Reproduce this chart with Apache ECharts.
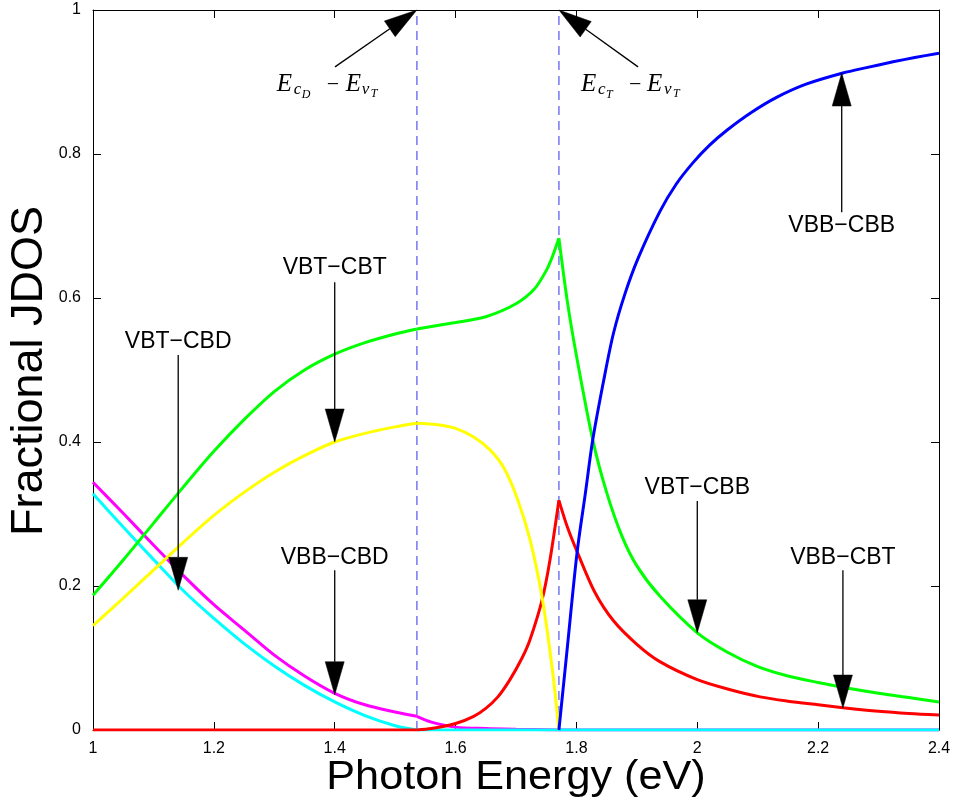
<!DOCTYPE html>
<html>
<head>
<meta charset="utf-8">
<script src="https://cdn.jsdelivr.net/npm/echarts@6/dist/echarts.min.js"></script>
<style>
html, body { margin: 0; padding: 0; background: #fff; }
#chart { width: 956px; height: 807px; }
</style>
</head>
<body>
<div id="chart"></div>
<script>
// Fractional joint density of states for each valence/conduction band pair.

// VBT-CBB (green)
const vbtCbbX = [1.0, 1.05, 1.1, 1.15, 1.2, 1.25, 1.3, 1.35, 1.4, 1.45, 1.5, 1.536, 1.6, 1.65, 1.7, 1.73, 1.75, 1.76, 1.771,
                 1.785, 1.8, 1.827, 1.85, 1.875, 1.9, 1.938, 2.0, 2.05, 2.1, 2.15, 2.2, 2.25, 2.3, 2.35, 2.4];
const vbtCbbY = [0.187, 0.236, 0.287, 0.338, 0.387, 0.431, 0.47, 0.5, 0.522, 0.538, 0.55, 0.557, 0.566, 0.574, 0.592, 0.612, 0.638, 0.657, 0.683,
                 0.595, 0.52, 0.403, 0.33, 0.27, 0.228, 0.186, 0.135, 0.108, 0.088, 0.075, 0.066, 0.058, 0.051, 0.045, 0.039];

// VBT-CBT (yellow)
const vbtCbtX = [1.0, 1.05, 1.1, 1.15, 1.2, 1.25, 1.3, 1.35, 1.4, 1.45, 1.5, 1.536, 1.57, 1.6, 1.63, 1.657, 1.68, 1.702, 1.723, 1.743, 1.76, 1.771];
const vbtCbtY = [0.145, 0.183, 0.222, 0.261, 0.298, 0.33, 0.358, 0.381, 0.4, 0.412, 0.421, 0.426, 0.424, 0.419, 0.407, 0.389, 0.364, 0.322, 0.265, 0.185, 0.085, 0.0];

// VBB-CBT (red)
const vbbCbtX = [1.0, 1.536, 1.56, 1.6, 1.63, 1.65, 1.67, 1.69, 1.71, 1.723, 1.743, 1.756, 1.771,
                 1.785, 1.801, 1.83, 1.861, 1.9, 1.938, 2.0, 2.05, 2.104, 2.15, 2.2, 2.241, 2.3, 2.35, 2.4];
const vbbCbtY = [0.0, 0.0, 0.002, 0.009, 0.019, 0.03, 0.046, 0.07, 0.1, 0.125, 0.18, 0.235, 0.319,
                 0.282, 0.248, 0.192, 0.152, 0.119, 0.095, 0.07, 0.057, 0.046, 0.04, 0.035, 0.031, 0.026, 0.023, 0.021];

// VBB-CBB (blue)
const vbbCbbX = [1.771, 1.785, 1.801, 1.815, 1.827, 1.845, 1.861, 1.88, 1.902, 1.938, 1.965, 1.993, 2.02, 2.049,
                 2.09, 2.132, 2.18, 2.241, 2.28, 2.324, 2.36, 2.4];
const vbbCbbY = [0.0, 0.115, 0.246, 0.33, 0.403, 0.485, 0.55, 0.605, 0.655, 0.72, 0.758, 0.788, 0.812, 0.833,
                 0.858, 0.879, 0.897, 0.9125, 0.92, 0.928, 0.934, 0.94];

// VBB-CBD (magenta)
const vbbCbdX = [1.0, 1.05, 1.1, 1.15, 1.2, 1.25, 1.3, 1.35, 1.4, 1.45, 1.5, 1.536, 1.56, 1.6, 1.65, 1.7, 1.771, 2.4];
const vbbCbdY = [0.344, 0.301, 0.257, 0.214, 0.174, 0.139, 0.104, 0.075, 0.051, 0.035, 0.025, 0.019, 0.011, 0.004, 0.002, 0.001, 0.0, 0.0];

// VBT-CBD (cyan)
const vbtCbdX = [1.0, 1.05, 1.1, 1.15, 1.2, 1.25, 1.3, 1.35, 1.4, 1.45, 1.5, 1.536, 2.4];
const vbtCbdY = [0.328, 0.282, 0.237, 0.193, 0.155, 0.12, 0.089, 0.062, 0.039, 0.02, 0.006, 0.0, 0.0];

// Transition energies marked by dashed lines: Ec_D - Ev_T and Ec_T - Ev_T (eV)
const edgeEnergies = [1.536, 1.771];

// Axis tick values
const xTicks = [1, 1.2, 1.4, 1.6, 1.8, 2, 2.2, 2.4];
const yTicks = [0, 0.2, 0.4, 0.6, 0.8, 1];

// Band-pair annotations: text centre and arrow from/to in data units
const pairLabels = ['VBB\u2212CBB', 'VBT\u2212CBT', 'VBT\u2212CBD', 'VBB\u2212CBD', 'VBT\u2212CBB', 'VBB\u2212CBT'];
const pairLabelAt = [[2.239, 0.700], [1.4, 0.642], [1.141, 0.539], [1.4, 0.240], [2.0, 0.336], [2.241, 0.240]];
const pairArrowFrom = [[2.239, 0.719], [1.4, 0.622], [1.141, 0.521], [1.4, 0.222], [2.0, 0.318], [2.241, 0.222]];
const pairArrowTo = [[2.239, 0.9125], [1.4, 0.4], [1.141, 0.194], [1.4, 0.049], [2.0, 0.135], [2.241, 0.0305]];

// Edge annotations (E_cD - E_vT, E_cT - E_vT)
const edgeLabelAt = [[1.4, 0.8917], [1.902, 0.8917]];
const edgeArrowFrom = [[1.4005, 0.921], [1.902, 0.921]];
const edgeArrowTo = [[1.536, 1.0], [1.771, 1.0]];

// Glyph layout of the math labels: [glyph, dx from centre, dy from centre, font size]
const edgeGlyphs = [
  [['E', -58, -4, 25], ['c', -41, 2, 17], ['D', -33, 7, 12], ['\u2212', -8, -3, 22], ['E', 11, -4, 25], ['v', 27, 2, 17], ['T', 36, 6, 12]],
  [['E', -57, -4, 25], ['c', -40, 2, 17], ['T', -32, 7, 12], ['\u2212', -9, -3, 22], ['E', 9, -4, 25], ['v', 26, 2, 17], ['T', 35, 6, 12]]
];

// Energies where a curve has a sharp corner; smoothing is applied between them only
const cornerEnergies = [1.536, 1.771];

function zip(xs, ys) { return xs.map((x, i) => [x, ys[i]]); }

function splitAtCorners(xs, ys) {
  const pts = zip(xs, ys);
  const parts = [];
  let cur = [];
  pts.forEach((p, i) => {
    cur.push(p);
    if (i > 0 && i < pts.length - 1 && cornerEnergies.includes(p[0])) {
      parts.push(cur);
      cur = [p];
    }
  });
  if (cur.length > 1) parts.push(cur);
  return parts;
}

const chart = echarts.init(document.getElementById('chart'), null, { renderer: 'canvas' });

const SANS = '"Liberation Sans", Arial, Helvetica, sans-serif';
const SERIF = '"Liberation Serif", "DejaVu Serif", serif';

function curve(name, xs, ys, color) {
  return splitAtCorners(xs, ys).map(part => ({
    name, type: 'line', data: part,
    showSymbol: false, symbol: 'none', smooth: 0.3,
    lineStyle: { color, width: 3 }, itemStyle: { color },
    xAxisIndex: 0, yAxisIndex: 0, z: 3
  }));
}

function renderArrow(params, api) {
  const a = api.coord([api.value(0), api.value(1)]);
  const b = api.coord([api.value(2), api.value(3)]);
  const dx = b[0] - a[0], dy = b[1] - a[1];
  const len = Math.hypot(dx, dy);
  const ux = dx / len, uy = dy / len;
  const hl = 33, hw = 9.5;
  const bx = b[0] - ux * hl, by = b[1] - uy * hl;
  return {
    type: 'group',
    children: [
      { type: 'line', shape: { x1: a[0], y1: a[1], x2: bx, y2: by }, style: { stroke: '#000', lineWidth: 1.3 } },
      { type: 'polygon', shape: { points: [[b[0], b[1]], [bx - uy * hw, by + ux * hw], [bx + uy * hw, by - ux * hw]] },
        style: { fill: '#000', stroke: '#000', lineWidth: 0.5 } }
    ]
  };
}

function textEl(text, x, y, font, align) {
  return {
    type: 'text', x, y,
    style: { text, font, fill: '#000', align: align, textAlign: align, verticalAlign: 'middle', textVerticalAlign: 'middle' }
  };
}

const arrowData = pairArrowFrom.map((f, i) => [f[0], f[1], pairArrowTo[i][0], pairArrowTo[i][1]])
  .concat(edgeArrowFrom.map((f, i) => [f[0], f[1], edgeArrowTo[i][0], edgeArrowTo[i][1]]));

const axisLineStyle = { show: true, onZero: false, lineStyle: { color: '#000', width: 1 } };
const axisTickStyle = { show: true, inside: true, length: 8, lineStyle: { color: '#000', width: 1 } };

const option = {
  animation: false,
  backgroundColor: '#fff',
  grid: { left: 93, right: 17, top: 10, bottom: 77, show: false },
  xAxis: [
    { type: 'value', min: xTicks[0], max: xTicks[xTicks.length - 1], interval: 0.2, position: 'bottom',
      axisLine: axisLineStyle, axisTick: axisTickStyle, splitLine: { show: false },
      axisLabel: { margin: 11, fontSize: 16, color: '#000', fontFamily: SANS } },
    { type: 'value', min: xTicks[0], max: xTicks[xTicks.length - 1], interval: 0.2, position: 'top',
      axisLine: axisLineStyle, axisTick: axisTickStyle, splitLine: { show: false },
      axisLabel: { show: false } }
  ],
  yAxis: [
    { type: 'value', min: yTicks[0], max: yTicks[yTicks.length - 1], interval: 0.2, position: 'left',
      axisLine: axisLineStyle, axisTick: axisTickStyle, splitLine: { show: false },
      axisLabel: { margin: 12, fontSize: 16, color: '#000', fontFamily: SANS } },
    { type: 'value', min: yTicks[0], max: yTicks[yTicks.length - 1], interval: 0.2, position: 'right',
      axisLine: axisLineStyle, axisTick: axisTickStyle, splitLine: { show: false },
      axisLabel: { show: false } }
  ],
  graphic: [
    { type: 'text', x: 516, y: 778, scaleX: 1.08,
      style: { text: 'Photon Energy (eV)', font: '40px ' + SANS, fill: '#000', align: 'center', textAlign: 'center', verticalAlign: 'middle', textVerticalAlign: 'middle' } },
    { type: 'text', x: 30, y: 371, rotation: Math.PI / 2,
      style: { text: 'Fractional JDOS', font: '45px ' + SANS, fill: '#000', align: 'center', textAlign: 'center', verticalAlign: 'middle', textVerticalAlign: 'middle' } }
  ],
  series: [
    // dashed markers of the two transition energies
    ...edgeEnergies.map(e => ({
      type: 'line', data: [[e, yTicks[0]], [e, yTicks[yTicks.length - 1]]],
      showSymbol: false, symbol: 'none',
      lineStyle: { color: '#7676f2', width: 1.5, type: [9, 6] }, z: 2
    })),
    ...curve('VBB\u2212CBD', vbbCbdX, vbbCbdY, '#ff00ff'),
    ...curve('VBT\u2212CBD', vbtCbdX, vbtCbdY, '#00ffff'),
    ...curve('VBB\u2212CBT', vbbCbtX, vbbCbtY, '#ff0000'),
    ...curve('VBT\u2212CBT', vbtCbtX, vbtCbtY, '#ffff00'),
    ...curve('VBT\u2212CBB', vbtCbbX, vbtCbbY, '#00ff00'),
    ...curve('VBB\u2212CBB', vbbCbbX, vbbCbbY, '#0000ff'),
    {
      type: 'custom', data: arrowData, renderItem: renderArrow,
      encode: { x: [0, 2], y: [1, 3] }, z: 5, silent: true
    },
    {
      type: 'custom', data: pairLabelAt, z: 5, silent: true,
      encode: { x: 0, y: 1 },
      renderItem: (params, api) => {
        const p = api.coord([api.value(0), api.value(1)]);
        return textEl(pairLabels[params.dataIndex], p[0], p[1], '23px ' + SANS, 'center');
      }
    },
    {
      type: 'custom', data: edgeLabelAt, z: 5, silent: true,
      encode: { x: 0, y: 1 },
      renderItem: (params, api) => {
        const p = api.coord([api.value(0), api.value(1)]);
        const parts = edgeGlyphs[params.dataIndex];
        return {
          type: 'group',
          children: parts.map(g => {
            const italic = g[0] !== '\u2212';
            return textEl(g[0], p[0] + g[1], p[1] + g[2], (italic ? 'italic ' : '') + g[3] + 'px ' + SERIF, 'left');
          })
        };
      }
    }
  ]
};

chart.setOption(option);
</script>
</body>
</html>
